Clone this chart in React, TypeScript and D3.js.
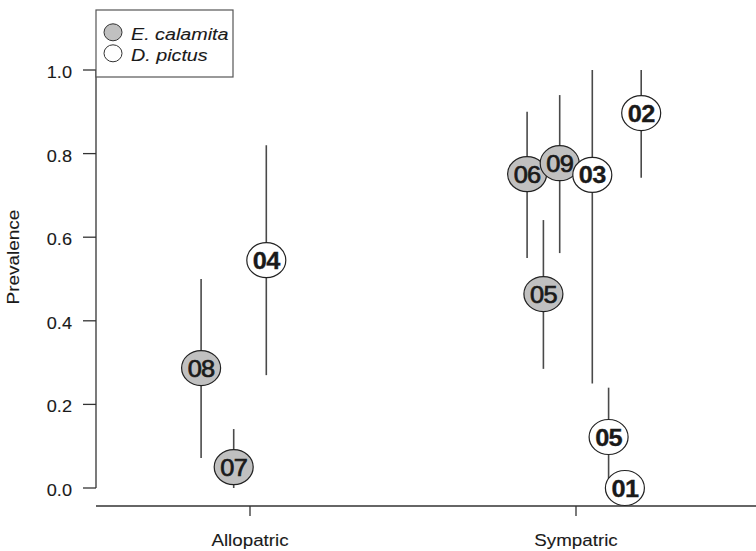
import React from "react";
import * as d3 from "d3";

const categories = ["Allopatric", "Sympatric"];
const labels = ["08", "07", "04", "06", "05", "09", "03", "05", "01", "02"];
const species = ["E. calamita", "E. calamita", "D. pictus", "E. calamita", "E. calamita", "E. calamita", "D. pictus", "D. pictus", "D. pictus", "D. pictus"];
const groupIndex = [0, 0, 0, 1, 1, 1, 1, 1, 1, 1];
const jitter = [-0.15, -0.05, 0.05, -0.15, -0.1, -0.05, 0.05, 0.1, 0.15, 0.2];
const prevalence = [0.287, 0.05, 0.545, 0.751, 0.464, 0.777, 0.749, 0.122, 0.0, 0.897];
const lower = [0.072, 0.0, 0.27, 0.55, 0.285, 0.562, 0.25, 0.02, 0.0, 0.742];
const upper = [0.5, 0.141, 0.82, 0.9, 0.641, 0.94, 1.0, 0.24, 0.0, 1.0];
const yTicks = [0, 0.2, 0.4, 0.6, 0.8, 1.0];
const legendItems = ["E. calamita", "D. pictus"];

const fillFor: Record<string, string> = { "E. calamita": "#c0c0c0", "D. pictus": "#ffffff" };
const font = "'Liberation Sans', Arial, Helvetica, sans-serif";

function SText(props: {
  x: number; y: number; sx: number; size: number; anchor?: string; rotate?: number;
  weight?: string; italic?: boolean; children: React.ReactNode; spacing?: number; stroke?: number;
}) {
  const { x, y, sx, size, anchor, rotate, weight, italic, children, spacing, stroke } = props;
  return (
    <text
      transform={`translate(${x},${y})${rotate ? ` rotate(${rotate})` : ""} scale(${sx},1)`}
      textAnchor={anchor || "start"}
      fontSize={size}
      fontWeight={weight || "normal"}
      fontStyle={italic ? "italic" : "normal"}
      letterSpacing={spacing || 0}
      fill="#1a1a1a"
      stroke={stroke ? "#1a1a1a" : "none"}
      strokeWidth={stroke || 0}
    >
      {children}
    </text>
  );
}

export default function App() {
  const W = 756, H = 551;
  const y = d3.scaleLinear().domain([0, 1]).range([488, 70]);
  const x = d3.scaleLinear().domain([1, 2]).range([250, 576]);
  const rx = 19.5, ry = 17.5;
  const pts = labels.map((l, i) => ({
    label: l,
    sp: species[i],
    cx: x(groupIndex[i] + 1 + jitter[i]),
    cy: y(prevalence[i]),
    lo: y(lower[i]),
    hi: y(upper[i]),
  }));
  const axisColor = "#333";
  return (
    <svg width={W} height={H} style={{ position: "absolute", left: 0, top: 0, background: "#fff" }} fontFamily={font}>
      {/* y axis */}
      <line x1={96} x2={96} y1={y(0)} y2={y(1)} stroke={axisColor} strokeWidth={1.3} />
      {yTicks.map((t) => (
        <g key={t}>
          <line x1={83} x2={96} y1={y(t)} y2={y(t)} stroke={axisColor} strokeWidth={1.3} />
          <SText x={72} y={y(t) + 8} sx={1.1} size={16.5} anchor="end" stroke={0.1}>
            {t.toFixed(1)}
          </SText>
        </g>
      ))}
      <SText x={19} y={257} sx={1.2} size={15.8} anchor="middle" rotate={-90} stroke={0.1}>
        Prevalence
      </SText>
      {/* x axis */}
      <line x1={96} x2={W} y1={506} y2={506} stroke={axisColor} strokeWidth={1.3} />
      {categories.map((c, i) => (
        <g key={c}>
          <line x1={x(i + 1)} x2={x(i + 1)} y1={506} y2={516} stroke={axisColor} strokeWidth={1.3} />
          <SText x={x(i + 1)} y={546} sx={1.13} size={16.6} anchor="middle" stroke={0.1}>
            {c}
          </SText>
        </g>
      ))}
      {/* CI lines */}
      {pts.map((p, i) =>
        p.lo !== p.hi ? (
          <line key={"ci" + i} x1={p.cx} x2={p.cx} y1={p.lo} y2={p.hi} stroke="#4a4a4a" strokeWidth={1.6} />
        ) : null
      )}
      {/* points */}
      {pts.map((p, i) => (
        <g key={"pt" + i}>
          <ellipse cx={p.cx} cy={p.cy} rx={rx} ry={ry} fill={fillFor[p.sp]} stroke="#222" strokeWidth={1.2} />
          <SText
            x={p.cx}
            y={p.cy + 8.5}
            sx={1.08}
            size={23.5}
            anchor="middle"
            weight={p.sp === "D. pictus" ? "bold" : "normal"}
            spacing={-0.6}
            stroke={p.sp === "D. pictus" ? 0.3 : 0.7}
          >
            {p.label}
          </SText>
        </g>
      ))}
      {/* legend */}
      <rect x={96} y={10} width={137} height={67} fill="#fff" stroke="#555" strokeWidth={1.2} />
      {legendItems.map((s, i) => (
        <g key={s}>
          <ellipse cx={113} cy={32.3 + i * 21} rx={9} ry={8.5} fill={fillFor[s]} stroke="#333" strokeWidth={1} />
          <SText x={131} y={40 + i * 20.5} sx={1.16} size={17} italic stroke={0.1}>
            {s}
          </SText>
        </g>
      ))}
    </svg>
  );
}
